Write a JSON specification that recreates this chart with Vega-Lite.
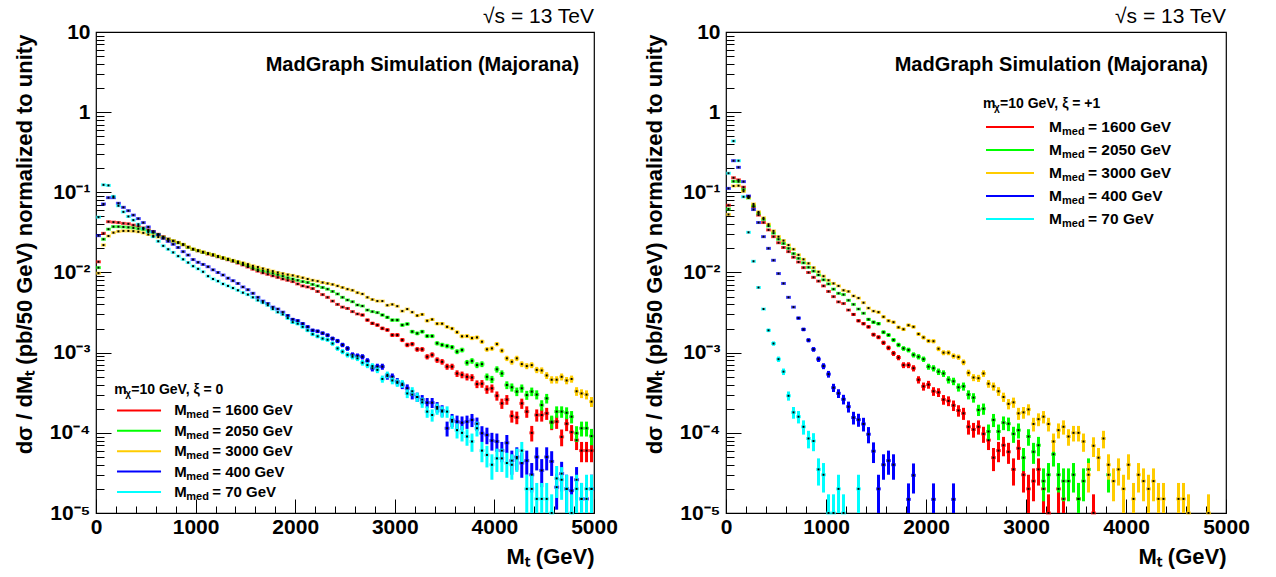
{
"$schema":"https://vega.github.io/schema/vega-lite/v6.json",
"background":"white",
"padding":{"left":12,"top":5,"right":5,"bottom":5},
"config":{"font":"Liberation Sans","view":{"stroke":"#000","strokeWidth":1.2},"text":{"color":"#000","font":"Liberation Sans"},"axis":{"labelColor":"#000","titleColor":"#000","labelFont":"Liberation Sans","titleFont":"Liberation Sans","labelOverlap":false},"title":{"font":"Liberation Sans","color":"#000"}},
"spacing":132,
"bounds":"flush",
"datasets":{
"L":[
{"s":"1600","x":25,"y":0.0136},{"s":"1600","x":75,"y":0.0308},{"s":"1600","x":125,"y":0.043},{"s":"1600","x":175,"y":0.0425},{"s":"1600","x":225,"y":0.042},{"s":"1600","x":275,"y":0.041},{"s":"1600","x":325,"y":0.0405},{"s":"1600","x":375,"y":0.039},{"s":"1600","x":425,"y":0.038},{"s":"1600","x":475,"y":0.036},{"s":"1600","x":525,"y":0.034},{"s":"1600","x":575,"y":0.0325},{"s":"1600","x":625,"y":0.03},{"s":"1600","x":675,"y":0.028},{"s":"1600","x":725,"y":0.0262},{"s":"1600","x":775,"y":0.0248},{"s":"1600","x":825,"y":0.0236},{"s":"1600","x":875,"y":0.0222},{"s":"1600","x":925,"y":0.0207},{"s":"1600","x":975,"y":0.0194},{"s":"1600","x":1025,"y":0.0186},{"s":"1600","x":1075,"y":0.0178},{"s":"1600","x":1125,"y":0.017},{"s":"1600","x":1175,"y":0.0164},{"s":"1600","x":1225,"y":0.0157},{"s":"1600","x":1275,"y":0.015},{"s":"1600","x":1325,"y":0.0144},{"s":"1600","x":1375,"y":0.0138},{"s":"1600","x":1425,"y":0.0131},{"s":"1600","x":1475,"y":0.0124},{"s":"1600","x":1525,"y":0.0117},{"s":"1600","x":1575,"y":0.011},{"s":"1600","x":1625,"y":0.0104},{"s":"1600","x":1675,"y":0.0099},{"s":"1600","x":1725,"y":0.0095},{"s":"1600","x":1775,"y":0.0091},{"s":"1600","x":1825,"y":0.0087},{"s":"1600","x":1875,"y":0.0083},{"s":"1600","x":1925,"y":0.008},{"s":"1600","x":1975,"y":0.0077},{"s":"1600","x":2025,"y":0.0072},{"s":"1600","x":2075,"y":0.0068},{"s":"1600","x":2125,"y":0.0066},{"s":"1600","x":2175,"y":0.0063},{"s":"1600","x":2225,"y":0.0058},{"s":"1600","x":2275,"y":0.0053},{"s":"1600","x":2325,"y":0.0049},{"s":"1600","x":2375,"y":0.0044},{"s":"1600","x":2425,"y":0.004},{"s":"1600","x":2475,"y":0.0037},{"s":"1600","x":2525,"y":0.00356},{"s":"1600","x":2575,"y":0.00325},{"s":"1600","x":2625,"y":0.00304},
{"s":"1600","x":2675,"y":0.00295,"e":0.000121},{"s":"1600","x":2725,"y":0.00255,"e":0.000113},{"s":"1600","x":2775,"y":0.00232,"e":0.000108},{"s":"1600","x":2825,"y":0.00221,"e":0.000105},{"s":"1600","x":2875,"y":0.00201,"e":0.0001},{"s":"1600","x":2925,"y":0.00192,"e":0.000098},{"s":"1600","x":2975,"y":0.00166,"e":0.000091},{"s":"1600","x":3025,"y":0.00166,"e":0.000091},{"s":"1600","x":3075,"y":0.00144,"e":0.000085},{"s":"1600","x":3125,"y":0.00125,"e":0.000079},{"s":"1600","x":3175,"y":0.00128,"e":0.00008},{"s":"1600","x":3225,"y":0.0011,"e":0.000074},{"s":"1600","x":3275,"y":0.0011,"e":0.000074},{"s":"1600","x":3325,"y":0.00089,"e":0.000067},{"s":"1600","x":3375,"y":0.00094,"e":0.000069},{"s":"1600","x":3425,"y":0.00081,"e":0.000064},{"s":"1600","x":3475,"y":0.00077,"e":0.000062},{"s":"1600","x":3525,"y":0.00067,"e":0.000058},{"s":"1600","x":3575,"y":0.00067,"e":0.000058},{"s":"1600","x":3625,"y":0.00055,"e":0.000052},{"s":"1600","x":3675,"y":0.00053,"e":0.000051},{"s":"1600","x":3725,"y":0.0005,"e":0.00005},{"s":"1600","x":3775,"y":0.00049,"e":0.000049},{"s":"1600","x":3825,"y":0.000406,"e":0.000045},{"s":"1600","x":3875,"y":0.00041,"e":0.000045},{"s":"1600","x":3925,"y":0.000349,"e":0.000042},{"s":"1600","x":3975,"y":0.000359,"e":0.000042},{"s":"1600","x":4025,"y":0.00029,"e":0.000038},{"s":"1600","x":4075,"y":0.000233,"e":0.000034},{"s":"1600","x":4125,"y":0.00026,"e":0.000036},{"s":"1600","x":4175,"y":0.000162,"e":0.000028},{"s":"1600","x":4225,"y":0.000156,"e":0.000028},{"s":"1600","x":4275,"y":0.000233,"e":0.000034},{"s":"1600","x":4325,"y":0.000184,"e":0.00003},{"s":"1600","x":4375,"y":0.0001,"e":0.000022},{"s":"1600","x":4425,"y":0.000167,"e":0.000029},{"s":"1600","x":4475,"y":0.000167,"e":0.000029},{"s":"1600","x":4525,"y":0.000175,"e":0.00003},{"s":"1600","x":4575,"y":0.000134,"e":0.000026},{"s":"1600","x":4625,"y":0.000138,"e":0.000026},{"s":"1600","x":4675,"y":0.000089,"e":0.000021},{"s":"1600","x":4725,"y":0.00013,"e":0.000025},{"s":"1600","x":4775,"y":0.000102,"e":0.000023},{"s":"1600","x":4825,"y":0.000081,"e":0.00002},{"s":"1600","x":4875,"y":0.00006,"e":0.000017},{"s":"1600","x":4925,"y":0.00006,"e":0.000017},{"s":"1600","x":4975,"y":0.00006,"e":0.000017},
{"s":"2050","x":25,"y":0.0115},{"s":"2050","x":75,"y":0.026},{"s":"2050","x":125,"y":0.0347},{"s":"2050","x":175,"y":0.0373},{"s":"2050","x":225,"y":0.0373},{"s":"2050","x":275,"y":0.037},{"s":"2050","x":325,"y":0.0366},{"s":"2050","x":375,"y":0.036},{"s":"2050","x":425,"y":0.0352},{"s":"2050","x":475,"y":0.0345},{"s":"2050","x":525,"y":0.033},{"s":"2050","x":575,"y":0.0314},{"s":"2050","x":625,"y":0.0296},{"s":"2050","x":675,"y":0.0275},{"s":"2050","x":725,"y":0.026},{"s":"2050","x":775,"y":0.0247},{"s":"2050","x":825,"y":0.0235},{"s":"2050","x":875,"y":0.0223},{"s":"2050","x":925,"y":0.0206},{"s":"2050","x":975,"y":0.0195},{"s":"2050","x":1025,"y":0.0187},{"s":"2050","x":1075,"y":0.0179},{"s":"2050","x":1125,"y":0.0172},{"s":"2050","x":1175,"y":0.0166},{"s":"2050","x":1225,"y":0.0158},{"s":"2050","x":1275,"y":0.0152},{"s":"2050","x":1325,"y":0.0146},{"s":"2050","x":1375,"y":0.014},{"s":"2050","x":1425,"y":0.0134},{"s":"2050","x":1475,"y":0.0128},{"s":"2050","x":1525,"y":0.0122},{"s":"2050","x":1575,"y":0.0115},{"s":"2050","x":1625,"y":0.0109},{"s":"2050","x":1675,"y":0.0105},{"s":"2050","x":1725,"y":0.0102},{"s":"2050","x":1775,"y":0.0098},{"s":"2050","x":1825,"y":0.0094},{"s":"2050","x":1875,"y":0.009},{"s":"2050","x":1925,"y":0.0086},{"s":"2050","x":1975,"y":0.0083},{"s":"2050","x":2025,"y":0.008},{"s":"2050","x":2075,"y":0.0077},{"s":"2050","x":2125,"y":0.0075},{"s":"2050","x":2175,"y":0.0071},{"s":"2050","x":2225,"y":0.0068},{"s":"2050","x":2275,"y":0.0065},{"s":"2050","x":2325,"y":0.0062},{"s":"2050","x":2375,"y":0.0058},{"s":"2050","x":2425,"y":0.0054},{"s":"2050","x":2475,"y":0.0049},{"s":"2050","x":2525,"y":0.00454},{"s":"2050","x":2575,"y":0.00432},{"s":"2050","x":2625,"y":0.00393},{"s":"2050","x":2675,"y":0.00382},{"s":"2050","x":2725,"y":0.0034},{"s":"2050","x":2775,"y":0.00325},{"s":"2050","x":2825,"y":0.00316},
{"s":"2050","x":2875,"y":0.00295,"e":0.000121},{"s":"2050","x":2925,"y":0.00276,"e":0.000117},{"s":"2050","x":2975,"y":0.00255,"e":0.000113},{"s":"2050","x":3025,"y":0.00255,"e":0.000113},{"s":"2050","x":3075,"y":0.00221,"e":0.000105},{"s":"2050","x":3125,"y":0.00228,"e":0.000107},{"s":"2050","x":3175,"y":0.00183,"e":0.000096},{"s":"2050","x":3225,"y":0.00174,"e":0.000093},{"s":"2050","x":3275,"y":0.00183,"e":0.000096},{"s":"2050","x":3325,"y":0.00161,"e":0.00009},{"s":"2050","x":3375,"y":0.00161,"e":0.00009},{"s":"2050","x":3425,"y":0.00131,"e":0.000081},{"s":"2050","x":3475,"y":0.00125,"e":0.000079},{"s":"2050","x":3525,"y":0.00121,"e":0.000078},{"s":"2050","x":3575,"y":0.00117,"e":0.000076},{"s":"2050","x":3625,"y":0.00103,"e":0.000072},{"s":"2050","x":3675,"y":0.00108,"e":0.000073},{"s":"2050","x":3725,"y":0.00075,"e":0.000061},{"s":"2050","x":3775,"y":0.00079,"e":0.000063},{"s":"2050","x":3825,"y":0.0007,"e":0.000059},{"s":"2050","x":3875,"y":0.00072,"e":0.00006},{"s":"2050","x":3925,"y":0.0005,"e":0.00005},{"s":"2050","x":3975,"y":0.000465,"e":0.000048},{"s":"2050","x":4025,"y":0.00062,"e":0.000056},{"s":"2050","x":4075,"y":0.00055,"e":0.000052},{"s":"2050","x":4125,"y":0.000395,"e":0.000044},{"s":"2050","x":4175,"y":0.00037,"e":0.000043},{"s":"2050","x":4225,"y":0.000327,"e":0.00004},{"s":"2050","x":4275,"y":0.000359,"e":0.000042},{"s":"2050","x":4325,"y":0.000296,"e":0.000038},{"s":"2050","x":4375,"y":0.000327,"e":0.00004},{"s":"2050","x":4425,"y":0.0003,"e":0.000039},{"s":"2050","x":4475,"y":0.000222,"e":0.000033},{"s":"2050","x":4525,"y":0.000269,"e":0.000037},{"s":"2050","x":4575,"y":0.000138,"e":0.000026},{"s":"2050","x":4625,"y":0.000184,"e":0.00003},{"s":"2050","x":4675,"y":0.000184,"e":0.00003},{"s":"2050","x":4725,"y":0.000178,"e":0.00003},{"s":"2050","x":4775,"y":0.000159,"e":0.000028},{"s":"2050","x":4825,"y":0.000099,"e":0.000022},{"s":"2050","x":4875,"y":0.000114,"e":0.000024},{"s":"2050","x":4925,"y":0.000114,"e":0.000024},{"s":"2050","x":4975,"y":0.000091,"e":0.000021},
{"s":"3000","x":25,"y":0.0098},{"s":"3000","x":75,"y":0.022},{"s":"3000","x":125,"y":0.0285},{"s":"3000","x":175,"y":0.0314},{"s":"3000","x":225,"y":0.0326},{"s":"3000","x":275,"y":0.033},{"s":"3000","x":325,"y":0.033},{"s":"3000","x":375,"y":0.0328},{"s":"3000","x":425,"y":0.0322},{"s":"3000","x":475,"y":0.0312},{"s":"3000","x":525,"y":0.0298},{"s":"3000","x":575,"y":0.0288},{"s":"3000","x":625,"y":0.0277},{"s":"3000","x":675,"y":0.0268},{"s":"3000","x":725,"y":0.0258},{"s":"3000","x":775,"y":0.0248},{"s":"3000","x":825,"y":0.0238},{"s":"3000","x":875,"y":0.0225},{"s":"3000","x":925,"y":0.0208},{"s":"3000","x":975,"y":0.0197},{"s":"3000","x":1025,"y":0.0189},{"s":"3000","x":1075,"y":0.0181},{"s":"3000","x":1125,"y":0.0174},{"s":"3000","x":1175,"y":0.0168},{"s":"3000","x":1225,"y":0.016},{"s":"3000","x":1275,"y":0.0154},{"s":"3000","x":1325,"y":0.0148},{"s":"3000","x":1375,"y":0.0142},{"s":"3000","x":1425,"y":0.0137},{"s":"3000","x":1475,"y":0.0132},{"s":"3000","x":1525,"y":0.0127},{"s":"3000","x":1575,"y":0.0121},{"s":"3000","x":1625,"y":0.0117},{"s":"3000","x":1675,"y":0.0112},{"s":"3000","x":1725,"y":0.0108},{"s":"3000","x":1775,"y":0.0104},{"s":"3000","x":1825,"y":0.01},{"s":"3000","x":1875,"y":0.0097},{"s":"3000","x":1925,"y":0.0094},{"s":"3000","x":1975,"y":0.0092},{"s":"3000","x":2025,"y":0.0089},{"s":"3000","x":2075,"y":0.0086},{"s":"3000","x":2125,"y":0.0083},{"s":"3000","x":2175,"y":0.008},{"s":"3000","x":2225,"y":0.0078},{"s":"3000","x":2275,"y":0.0075},{"s":"3000","x":2325,"y":0.0073},{"s":"3000","x":2375,"y":0.0071},{"s":"3000","x":2425,"y":0.0068},{"s":"3000","x":2475,"y":0.0065},{"s":"3000","x":2525,"y":0.0062},{"s":"3000","x":2575,"y":0.006},{"s":"3000","x":2625,"y":0.0056},{"s":"3000","x":2675,"y":0.0054},{"s":"3000","x":2725,"y":0.0049},{"s":"3000","x":2775,"y":0.0046},{"s":"3000","x":2825,"y":0.0044},{"s":"3000","x":2875,"y":0.0044},{"s":"3000","x":2925,"y":0.0039},{"s":"3000","x":2975,"y":0.004},{"s":"3000","x":3025,"y":0.0038},{"s":"3000","x":3075,"y":0.0033},{"s":"3000","x":3125,"y":0.0035},{"s":"3000","x":3175,"y":0.0032},
{"s":"3000","x":3225,"y":0.0029,"e":0.00012},{"s":"3000","x":3275,"y":0.003,"e":0.000122},{"s":"3000","x":3325,"y":0.0025,"e":0.000112},{"s":"3000","x":3375,"y":0.0026,"e":0.000114},{"s":"3000","x":3425,"y":0.0023,"e":0.000107},{"s":"3000","x":3475,"y":0.0023,"e":0.000107},{"s":"3000","x":3525,"y":0.0021,"e":0.000102},{"s":"3000","x":3575,"y":0.002,"e":0.0001},{"s":"3000","x":3625,"y":0.0018,"e":0.000095},{"s":"3000","x":3675,"y":0.0016,"e":0.000089},{"s":"3000","x":3725,"y":0.00161,"e":0.00009},{"s":"3000","x":3775,"y":0.00152,"e":0.000087},{"s":"3000","x":3825,"y":0.00155,"e":0.000088},{"s":"3000","x":3875,"y":0.00137,"e":0.000083},{"s":"3000","x":3925,"y":0.0011,"e":0.000074},{"s":"3000","x":3975,"y":0.00113,"e":0.000075},{"s":"3000","x":4025,"y":0.00128,"e":0.00008},{"s":"3000","x":4075,"y":0.00106,"e":0.000073},{"s":"3000","x":4125,"y":0.00085,"e":0.000065},{"s":"3000","x":4175,"y":0.00077,"e":0.000062},{"s":"3000","x":4225,"y":0.00085,"e":0.000065},{"s":"3000","x":4275,"y":0.00072,"e":0.00006},{"s":"3000","x":4325,"y":0.00068,"e":0.000058},{"s":"3000","x":4375,"y":0.0007,"e":0.000059},{"s":"3000","x":4425,"y":0.00061,"e":0.000055},{"s":"3000","x":4475,"y":0.0006,"e":0.000055},{"s":"3000","x":4525,"y":0.00052,"e":0.000051},{"s":"3000","x":4575,"y":0.00046,"e":0.000048},{"s":"3000","x":4625,"y":0.00046,"e":0.000048},{"s":"3000","x":4675,"y":0.0005,"e":0.00005},{"s":"3000","x":4725,"y":0.00045,"e":0.000047},{"s":"3000","x":4775,"y":0.00047,"e":0.000048},{"s":"3000","x":4825,"y":0.00033,"e":0.000041},{"s":"3000","x":4875,"y":0.00031,"e":0.000039},{"s":"3000","x":4925,"y":0.0003,"e":0.000039},{"s":"3000","x":4975,"y":0.000245,"e":0.000035},
{"s":"400","x":25,"y":0.0288},{"s":"400","x":75,"y":0.0715},{"s":"400","x":125,"y":0.0858},{"s":"400","x":175,"y":0.0858},{"s":"400","x":225,"y":0.073},{"s":"400","x":275,"y":0.065},{"s":"400","x":325,"y":0.059},{"s":"400","x":375,"y":0.052},{"s":"400","x":425,"y":0.047},{"s":"400","x":475,"y":0.0419},{"s":"400","x":525,"y":0.037},{"s":"400","x":575,"y":0.0324},{"s":"400","x":625,"y":0.0295},{"s":"400","x":675,"y":0.0267},{"s":"400","x":725,"y":0.0245},{"s":"400","x":775,"y":0.0225},{"s":"400","x":825,"y":0.0205},{"s":"400","x":875,"y":0.0182},{"s":"400","x":925,"y":0.0165},{"s":"400","x":975,"y":0.0145},{"s":"400","x":1025,"y":0.0134},{"s":"400","x":1075,"y":0.0126},{"s":"400","x":1125,"y":0.0118},{"s":"400","x":1175,"y":0.0108},{"s":"400","x":1225,"y":0.01},{"s":"400","x":1275,"y":0.0093},{"s":"400","x":1325,"y":0.0085},{"s":"400","x":1375,"y":0.0079},{"s":"400","x":1425,"y":0.0073},{"s":"400","x":1475,"y":0.0066},{"s":"400","x":1525,"y":0.0061},{"s":"400","x":1575,"y":0.0055},{"s":"400","x":1625,"y":0.0049},{"s":"400","x":1675,"y":0.0044},{"s":"400","x":1725,"y":0.0041},{"s":"400","x":1775,"y":0.0037},{"s":"400","x":1825,"y":0.0035},{"s":"400","x":1875,"y":0.0032},
{"s":"400","x":1925,"y":0.0029,"e":0.00012},{"s":"400","x":1975,"y":0.0026,"e":0.000114},{"s":"400","x":2025,"y":0.0025,"e":0.000112},{"s":"400","x":2075,"y":0.0023,"e":0.000107},{"s":"400","x":2125,"y":0.0021,"e":0.000102},{"s":"400","x":2175,"y":0.0019,"e":0.000097},{"s":"400","x":2225,"y":0.00185,"e":0.000096},{"s":"400","x":2275,"y":0.00175,"e":0.000094},{"s":"400","x":2325,"y":0.00165,"e":0.000091},{"s":"400","x":2375,"y":0.0015,"e":0.000087},{"s":"400","x":2425,"y":0.0014,"e":0.000084},{"s":"400","x":2475,"y":0.00125,"e":0.000079},{"s":"400","x":2525,"y":0.00113,"e":0.000075},{"s":"400","x":2575,"y":0.00094,"e":0.000069},{"s":"400","x":2625,"y":0.00091,"e":0.000067},{"s":"400","x":2675,"y":0.00089,"e":0.000067},{"s":"400","x":2725,"y":0.00079,"e":0.000063},{"s":"400","x":2775,"y":0.00064,"e":0.000057},{"s":"400","x":2825,"y":0.00067,"e":0.000058},{"s":"400","x":2875,"y":0.00067,"e":0.000058},{"s":"400","x":2925,"y":0.00051,"e":0.00005},{"s":"400","x":2975,"y":0.0005,"e":0.00005},{"s":"400","x":3025,"y":0.000435,"e":0.000047},{"s":"400","x":3075,"y":0.000395,"e":0.000044},{"s":"400","x":3125,"y":0.00036,"e":0.000042},{"s":"400","x":3175,"y":0.0003,"e":0.000039},{"s":"400","x":3225,"y":0.00028,"e":0.000037},{"s":"400","x":3275,"y":0.00026,"e":0.000036},{"s":"400","x":3325,"y":0.000238,"e":0.000034},{"s":"400","x":3375,"y":0.000238,"e":0.000034},{"s":"400","x":3425,"y":0.00021,"e":0.000032},{"s":"400","x":3475,"y":0.00019,"e":0.000031},{"s":"400","x":3525,"y":0.000114,"e":0.000024},{"s":"400","x":3575,"y":0.000145,"e":0.000027},{"s":"400","x":3625,"y":0.000138,"e":0.000026},{"s":"400","x":3675,"y":0.000134,"e":0.000026},{"s":"400","x":3725,"y":0.000138,"e":0.000026},{"s":"400","x":3775,"y":0.000145,"e":0.000027},{"s":"400","x":3825,"y":0.00013,"e":0.000025},{"s":"400","x":3875,"y":0.000099,"e":0.000022},{"s":"400","x":3925,"y":0.000094,"e":0.000022},{"s":"400","x":3975,"y":0.00008,"e":0.00002},{"s":"400","x":4025,"y":0.000078,"e":0.00002},{"s":"400","x":4075,"y":0.00006,"e":0.000017},{"s":"400","x":4125,"y":0.000075,"e":0.000019},{"s":"400","x":4175,"y":0.000045,"e":0.000015},{"s":"400","x":4225,"y":0.00005,"e":0.000016},{"s":"400","x":4275,"y":0.000042,"e":0.0000145},{"s":"400","x":4325,"y":0.000045,"e":0.000015},{"s":"400","x":4375,"y":0.00003,"e":0.000012},{"s":"400","x":4425,"y":0.00005,"e":0.000016},{"s":"400","x":4475,"y":0.000034,"e":0.000013},{"s":"400","x":4525,"y":0.00005,"e":0.000016},{"s":"400","x":4575,"y":0.000044,"e":0.000015},{"s":"400","x":4625,"y":0.000021,"e":0.00001},{"s":"400","x":4675,"y":0.000031,"e":0.0000125},{"s":"400","x":4725,"y":0.00002,"e":0.00001},{"s":"400","x":4775,"y":0.000019,"e":0.0000097},{"s":"400","x":4825,"y":0.000026,"e":0.0000114},{"s":"400","x":4875,"y":0.000015,"e":0.0000087},{"s":"400","x":4925,"y":0.000015,"e":0.0000087},{"s":"400","x":4975,"y":0.00002,"e":0.00001},
{"s":"70","x":25,"y":0.049},{"s":"70","x":75,"y":0.124},{"s":"70","x":125,"y":0.122},{"s":"70","x":175,"y":0.089},{"s":"70","x":225,"y":0.068},{"s":"70","x":275,"y":0.057},{"s":"70","x":325,"y":0.05},{"s":"70","x":375,"y":0.045},{"s":"70","x":425,"y":0.04},{"s":"70","x":475,"y":0.0356},{"s":"70","x":525,"y":0.032},{"s":"70","x":575,"y":0.028},{"s":"70","x":625,"y":0.0245},{"s":"70","x":675,"y":0.0215},{"s":"70","x":725,"y":0.0195},{"s":"70","x":775,"y":0.0178},{"s":"70","x":825,"y":0.016},{"s":"70","x":875,"y":0.0146},{"s":"70","x":925,"y":0.0133},{"s":"70","x":975,"y":0.012},{"s":"70","x":1025,"y":0.0111},{"s":"70","x":1075,"y":0.0102},{"s":"70","x":1125,"y":0.009},{"s":"70","x":1175,"y":0.0083},{"s":"70","x":1225,"y":0.0078},{"s":"70","x":1275,"y":0.0072},{"s":"70","x":1325,"y":0.0068},{"s":"70","x":1375,"y":0.0064},{"s":"70","x":1425,"y":0.006},{"s":"70","x":1475,"y":0.0056},{"s":"70","x":1525,"y":0.0053},{"s":"70","x":1575,"y":0.0049},{"s":"70","x":1625,"y":0.0045},{"s":"70","x":1675,"y":0.0042},{"s":"70","x":1725,"y":0.0039},{"s":"70","x":1775,"y":0.0035},{"s":"70","x":1825,"y":0.0032},{"s":"70","x":1875,"y":0.003},
{"s":"70","x":1925,"y":0.0027,"e":0.000116},{"s":"70","x":1975,"y":0.0024,"e":0.00011},{"s":"70","x":2025,"y":0.0023,"e":0.000107},{"s":"70","x":2075,"y":0.0021,"e":0.000102},{"s":"70","x":2125,"y":0.0019,"e":0.000097},{"s":"70","x":2175,"y":0.0017,"e":0.000092},{"s":"70","x":2225,"y":0.0016,"e":0.000089},{"s":"70","x":2275,"y":0.0015,"e":0.000087},{"s":"70","x":2325,"y":0.00145,"e":0.000085},{"s":"70","x":2375,"y":0.0013,"e":0.000081},{"s":"70","x":2425,"y":0.00113,"e":0.000075},{"s":"70","x":2475,"y":0.00103,"e":0.000072},{"s":"70","x":2525,"y":0.00094,"e":0.000069},{"s":"70","x":2575,"y":0.00089,"e":0.000067},{"s":"70","x":2625,"y":0.00085,"e":0.000065},{"s":"70","x":2675,"y":0.00075,"e":0.000061},{"s":"70","x":2725,"y":0.0007,"e":0.000059},{"s":"70","x":2775,"y":0.00068,"e":0.000058},{"s":"70","x":2825,"y":0.00061,"e":0.000055},{"s":"70","x":2875,"y":0.00047,"e":0.000048},{"s":"70","x":2925,"y":0.00053,"e":0.000051},{"s":"70","x":2975,"y":0.00045,"e":0.000047},{"s":"70","x":3025,"y":0.00042,"e":0.000046},{"s":"70","x":3075,"y":0.00041,"e":0.000045},{"s":"70","x":3125,"y":0.00031,"e":0.000039},{"s":"70","x":3175,"y":0.00033,"e":0.000041},{"s":"70","x":3225,"y":0.00028,"e":0.000037},{"s":"70","x":3275,"y":0.00024,"e":0.000035},{"s":"70","x":3325,"y":0.000184,"e":0.00003},{"s":"70","x":3375,"y":0.000167,"e":0.000029},{"s":"70","x":3425,"y":0.0002,"e":0.000032},{"s":"70","x":3475,"y":0.000184,"e":0.00003},{"s":"70","x":3525,"y":0.000184,"e":0.00003},{"s":"70","x":3575,"y":0.000138,"e":0.000026},{"s":"70","x":3625,"y":0.000108,"e":0.000023},{"s":"70","x":3675,"y":0.0001,"e":0.000022},{"s":"70","x":3725,"y":0.00009,"e":0.000021},{"s":"70","x":3775,"y":0.000078,"e":0.00002},{"s":"70","x":3825,"y":0.000114,"e":0.000024},{"s":"70","x":3875,"y":0.00006,"e":0.000017},{"s":"70","x":3925,"y":0.000053,"e":0.000016},{"s":"70","x":3975,"y":0.00004,"e":0.000014},{"s":"70","x":4025,"y":0.000048,"e":0.0000155},{"s":"70","x":4075,"y":0.000048,"e":0.0000155},{"s":"70","x":4125,"y":0.000042,"e":0.0000145},{"s":"70","x":4175,"y":0.00004,"e":0.000014},{"s":"70","x":4225,"y":0.000048,"e":0.0000155},{"s":"70","x":4275,"y":0.00006,"e":0.000017},{"s":"70","x":4325,"y":0.00002,"e":0.00001},{"s":"70","x":4375,"y":0.00002,"e":0.00001},{"s":"70","x":4425,"y":0.000015,"e":0.0000087},{"s":"70","x":4475,"y":0.000015,"e":0.0000087},{"s":"70","x":4525,"y":0.000015,"e":0.0000087},{"s":"70","x":4575,"y":0.00001,"e":0.0000071},{"s":"70","x":4625,"y":0.000027,"e":0.0000116},{"s":"70","x":4675,"y":0.000026,"e":0.0000114},{"s":"70","x":4725,"y":0.00002,"e":0.00001},{"s":"70","x":4775,"y":0.00001,"e":0.0000071},{"s":"70","x":4825,"y":0.00002,"e":0.00001},{"s":"70","x":4875,"y":0.000015,"e":0.0000087},{"s":"70","x":4925,"y":0.00002,"e":0.00001},{"s":"70","x":4975,"y":0.00002,"e":0.00001}
],
"R":[
{"s":"1600","x":25,"y":0.069},{"s":"1600","x":75,"y":0.152},{"s":"1600","x":125,"y":0.143},{"s":"1600","x":175,"y":0.116},{"s":"1600","x":225,"y":0.088},{"s":"1600","x":275,"y":0.066},{"s":"1600","x":325,"y":0.052},{"s":"1600","x":375,"y":0.042},{"s":"1600","x":425,"y":0.034},{"s":"1600","x":475,"y":0.028},{"s":"1600","x":525,"y":0.0235},{"s":"1600","x":575,"y":0.0205},{"s":"1600","x":625,"y":0.0182},{"s":"1600","x":675,"y":0.0155},{"s":"1600","x":725,"y":0.0135},{"s":"1600","x":775,"y":0.0115},{"s":"1600","x":825,"y":0.01},{"s":"1600","x":875,"y":0.0087},{"s":"1600","x":925,"y":0.0078},{"s":"1600","x":975,"y":0.0068},{"s":"1600","x":1025,"y":0.0058},{"s":"1600","x":1075,"y":0.005},{"s":"1600","x":1125,"y":0.0043},{"s":"1600","x":1175,"y":0.0041},{"s":"1600","x":1225,"y":0.0034},
{"s":"1600","x":1275,"y":0.003,"e":0.000122},{"s":"1600","x":1325,"y":0.0025,"e":0.000112},{"s":"1600","x":1375,"y":0.0023,"e":0.000107},{"s":"1600","x":1425,"y":0.0021,"e":0.000102},{"s":"1600","x":1475,"y":0.00168,"e":0.000092},{"s":"1600","x":1525,"y":0.00156,"e":0.000088},{"s":"1600","x":1575,"y":0.00133,"e":0.000082},{"s":"1600","x":1625,"y":0.00115,"e":0.000076},{"s":"1600","x":1675,"y":0.00098,"e":0.00007},{"s":"1600","x":1725,"y":0.00087,"e":0.000066},{"s":"1600","x":1775,"y":0.0007,"e":0.000059},{"s":"1600","x":1825,"y":0.0007,"e":0.000059},{"s":"1600","x":1875,"y":0.00064,"e":0.000057},{"s":"1600","x":1925,"y":0.00046,"e":0.000048},{"s":"1600","x":1975,"y":0.00038,"e":0.000044},{"s":"1600","x":2025,"y":0.0004,"e":0.000045},{"s":"1600","x":2075,"y":0.00033,"e":0.000041},{"s":"1600","x":2125,"y":0.00032,"e":0.00004},{"s":"1600","x":2175,"y":0.00026,"e":0.000036},{"s":"1600","x":2225,"y":0.00025,"e":0.000035},{"s":"1600","x":2275,"y":0.00022,"e":0.000033},{"s":"1600","x":2325,"y":0.00019,"e":0.000031},{"s":"1600","x":2375,"y":0.000175,"e":0.00003},{"s":"1600","x":2425,"y":0.000119,"e":0.000024},{"s":"1600","x":2475,"y":0.00011,"e":0.000023},{"s":"1600","x":2525,"y":0.000119,"e":0.000024},{"s":"1600","x":2575,"y":0.000097,"e":0.000022},{"s":"1600","x":2625,"y":0.000081,"e":0.00002},{"s":"1600","x":2675,"y":0.000049,"e":0.0000157},{"s":"1600","x":2725,"y":0.00006,"e":0.000017},{"s":"1600","x":2775,"y":0.00007,"e":0.000019},{"s":"1600","x":2825,"y":0.000058,"e":0.000017},{"s":"1600","x":2875,"y":0.000035,"e":0.000013},{"s":"1600","x":2925,"y":0.000064,"e":0.000018},{"s":"1600","x":2975,"y":0.00003,"e":0.000012},{"s":"1600","x":3025,"y":0.00002,"e":0.00001},{"s":"1600","x":3075,"y":0.000025,"e":0.000011},{"s":"1600","x":3125,"y":0.000035,"e":0.000013},{"s":"1600","x":3175,"y":0.00002,"e":0.00001},{"s":"1600","x":3225,"y":0.00001,"e":0.0000071},{"s":"1600","x":3325,"y":0.00002,"e":0.00001},{"s":"1600","x":3375,"y":0.000015,"e":0.0000087},{"s":"1600","x":3525,"y":0.000015,"e":0.0000087},{"s":"1600","x":3675,"y":0.00001,"e":0.0000071},
{"s":"2050","x":25,"y":0.062},{"s":"2050","x":75,"y":0.137},{"s":"2050","x":125,"y":0.136},{"s":"2050","x":175,"y":0.108},{"s":"2050","x":225,"y":0.085},{"s":"2050","x":275,"y":0.068},{"s":"2050","x":325,"y":0.055},{"s":"2050","x":375,"y":0.046},{"s":"2050","x":425,"y":0.038},{"s":"2050","x":475,"y":0.031},{"s":"2050","x":525,"y":0.026},{"s":"2050","x":575,"y":0.023},{"s":"2050","x":625,"y":0.02},{"s":"2050","x":675,"y":0.0172},{"s":"2050","x":725,"y":0.015},{"s":"2050","x":775,"y":0.0132},{"s":"2050","x":825,"y":0.0116},{"s":"2050","x":875,"y":0.0104},{"s":"2050","x":925,"y":0.0093},{"s":"2050","x":975,"y":0.0081},{"s":"2050","x":1025,"y":0.0072},{"s":"2050","x":1075,"y":0.0062},{"s":"2050","x":1125,"y":0.0055},{"s":"2050","x":1175,"y":0.0053},{"s":"2050","x":1225,"y":0.0045},{"s":"2050","x":1275,"y":0.004},{"s":"2050","x":1325,"y":0.0035},{"s":"2050","x":1375,"y":0.0031},
{"s":"2050","x":1425,"y":0.0026,"e":0.000114},{"s":"2050","x":1475,"y":0.0024,"e":0.00011},{"s":"2050","x":1525,"y":0.0023,"e":0.000107},{"s":"2050","x":1575,"y":0.0018,"e":0.000095},{"s":"2050","x":1625,"y":0.00166,"e":0.000091},{"s":"2050","x":1675,"y":0.00144,"e":0.000085},{"s":"2050","x":1725,"y":0.00125,"e":0.000079},{"s":"2050","x":1775,"y":0.00113,"e":0.000075},{"s":"2050","x":1825,"y":0.00108,"e":0.000073},{"s":"2050","x":1875,"y":0.00094,"e":0.000069},{"s":"2050","x":1925,"y":0.00089,"e":0.000067},{"s":"2050","x":1975,"y":0.00083,"e":0.000064},{"s":"2050","x":2025,"y":0.00067,"e":0.000058},{"s":"2050","x":2075,"y":0.00064,"e":0.000057},{"s":"2050","x":2125,"y":0.00058,"e":0.000054},{"s":"2050","x":2175,"y":0.00055,"e":0.000052},{"s":"2050","x":2225,"y":0.00046,"e":0.000048},{"s":"2050","x":2275,"y":0.00044,"e":0.000047},{"s":"2050","x":2325,"y":0.00037,"e":0.000043},{"s":"2050","x":2375,"y":0.00038,"e":0.000044},{"s":"2050","x":2425,"y":0.0003,"e":0.000039},{"s":"2050","x":2475,"y":0.000275,"e":0.000037},{"s":"2050","x":2525,"y":0.000193,"e":0.000031},{"s":"2050","x":2575,"y":0.0002,"e":0.000032},{"s":"2050","x":2625,"y":0.000104,"e":0.000023},{"s":"2050","x":2675,"y":0.000145,"e":0.000027},{"s":"2050","x":2725,"y":0.000104,"e":0.000023},{"s":"2050","x":2775,"y":0.000134,"e":0.000026},{"s":"2050","x":2825,"y":0.00013,"e":0.000025},{"s":"2050","x":2875,"y":0.000097,"e":0.000022},{"s":"2050","x":2925,"y":0.000108,"e":0.000023},{"s":"2050","x":2975,"y":0.000049,"e":0.0000157},{"s":"2050","x":3025,"y":0.00009,"e":0.000021},{"s":"2050","x":3075,"y":0.000058,"e":0.000017},{"s":"2050","x":3125,"y":0.00007,"e":0.000019},{"s":"2050","x":3175,"y":0.000025,"e":0.000011},{"s":"2050","x":3225,"y":0.00003,"e":0.000012},{"s":"2050","x":3275,"y":0.000054,"e":0.000016},{"s":"2050","x":3325,"y":0.00003,"e":0.000012},{"s":"2050","x":3375,"y":0.000025,"e":0.000011},{"s":"2050","x":3425,"y":0.000025,"e":0.000011},{"s":"2050","x":3475,"y":0.00003,"e":0.000012},{"s":"2050","x":3525,"y":0.000015,"e":0.0000087},{"s":"2050","x":3575,"y":0.000025,"e":0.000011},{"s":"2050","x":3625,"y":0.000035,"e":0.000013},{"s":"2050","x":3825,"y":0.00003,"e":0.000012},
{"s":"3000","x":25,"y":0.053},{"s":"3000","x":75,"y":0.12},{"s":"3000","x":125,"y":0.121},{"s":"3000","x":175,"y":0.103},{"s":"3000","x":225,"y":0.086},{"s":"3000","x":275,"y":0.0716},{"s":"3000","x":325,"y":0.057},{"s":"3000","x":375,"y":0.048},{"s":"3000","x":425,"y":0.04},{"s":"3000","x":475,"y":0.033},{"s":"3000","x":525,"y":0.028},{"s":"3000","x":575,"y":0.025},{"s":"3000","x":625,"y":0.022},{"s":"3000","x":675,"y":0.0195},{"s":"3000","x":725,"y":0.0166},{"s":"3000","x":775,"y":0.0146},{"s":"3000","x":825,"y":0.013},{"s":"3000","x":875,"y":0.0115},{"s":"3000","x":925,"y":0.0102},{"s":"3000","x":975,"y":0.009},{"s":"3000","x":1025,"y":0.008},{"s":"3000","x":1075,"y":0.0073},{"s":"3000","x":1125,"y":0.0068},{"s":"3000","x":1175,"y":0.006},{"s":"3000","x":1225,"y":0.0058},{"s":"3000","x":1275,"y":0.0051},{"s":"3000","x":1325,"y":0.0048},{"s":"3000","x":1375,"y":0.0042},{"s":"3000","x":1425,"y":0.0036},{"s":"3000","x":1475,"y":0.0033},
{"s":"3000","x":1525,"y":0.0032,"e":0.000126},{"s":"3000","x":1575,"y":0.0028,"e":0.000118},{"s":"3000","x":1625,"y":0.0025,"e":0.000112},{"s":"3000","x":1675,"y":0.0024,"e":0.00011},{"s":"3000","x":1725,"y":0.00207,"e":0.000102},{"s":"3000","x":1775,"y":0.00196,"e":0.000099},{"s":"3000","x":1825,"y":0.0022,"e":0.000105},{"s":"3000","x":1875,"y":0.0021,"e":0.000102},{"s":"3000","x":1925,"y":0.00171,"e":0.000092},{"s":"3000","x":1975,"y":0.00155,"e":0.000088},{"s":"3000","x":2025,"y":0.0014,"e":0.000084},{"s":"3000","x":2075,"y":0.00139,"e":0.000083},{"s":"3000","x":2125,"y":0.00112,"e":0.000075},{"s":"3000","x":2175,"y":0.001,"e":0.000071},{"s":"3000","x":2225,"y":0.001,"e":0.000071},{"s":"3000","x":2275,"y":0.00091,"e":0.000067},{"s":"3000","x":2325,"y":0.00088,"e":0.000066},{"s":"3000","x":2375,"y":0.00076,"e":0.000062},{"s":"3000","x":2425,"y":0.00056,"e":0.000053},{"s":"3000","x":2475,"y":0.00049,"e":0.000049},{"s":"3000","x":2525,"y":0.00048,"e":0.000049},{"s":"3000","x":2575,"y":0.00055,"e":0.000052},{"s":"3000","x":2625,"y":0.00041,"e":0.000045},{"s":"3000","x":2675,"y":0.00038,"e":0.000044},{"s":"3000","x":2725,"y":0.00033,"e":0.000041},{"s":"3000","x":2775,"y":0.00028,"e":0.000037},{"s":"3000","x":2825,"y":0.00023,"e":0.000034},{"s":"3000","x":2875,"y":0.00024,"e":0.000035},{"s":"3000","x":2925,"y":0.000175,"e":0.00003},{"s":"3000","x":2975,"y":0.00018,"e":0.00003},{"s":"3000","x":3025,"y":0.000196,"e":0.000031},{"s":"3000","x":3075,"y":0.000129,"e":0.000025},{"s":"3000","x":3125,"y":0.000148,"e":0.000027},{"s":"3000","x":3175,"y":0.000159,"e":0.000028},{"s":"3000","x":3225,"y":0.000129,"e":0.000025},{"s":"3000","x":3275,"y":0.000078,"e":0.00002},{"s":"3000","x":3325,"y":0.000108,"e":0.000023},{"s":"3000","x":3375,"y":0.000119,"e":0.000024},{"s":"3000","x":3425,"y":0.00009,"e":0.000021},{"s":"3000","x":3475,"y":0.0001,"e":0.000022},{"s":"3000","x":3525,"y":0.0001,"e":0.000022},{"s":"3000","x":3575,"y":0.000078,"e":0.00002},{"s":"3000","x":3625,"y":0.00003,"e":0.000012},{"s":"3000","x":3675,"y":0.000069,"e":0.000019},{"s":"3000","x":3725,"y":0.000049,"e":0.0000157},{"s":"3000","x":3775,"y":0.000085,"e":0.000021},{"s":"3000","x":3825,"y":0.00004,"e":0.000014},{"s":"3000","x":3875,"y":0.000025,"e":0.000011},{"s":"3000","x":3925,"y":0.000035,"e":0.000013},{"s":"3000","x":3975,"y":0.00002,"e":0.00001},{"s":"3000","x":4025,"y":0.00004,"e":0.000014},{"s":"3000","x":4075,"y":0.000015,"e":0.0000087},{"s":"3000","x":4125,"y":0.00003,"e":0.000012},{"s":"3000","x":4175,"y":0.000025,"e":0.000011},{"s":"3000","x":4225,"y":0.00002,"e":0.00001},{"s":"3000","x":4275,"y":0.000025,"e":0.000011},{"s":"3000","x":4325,"y":0.000015,"e":0.0000087},{"s":"3000","x":4375,"y":0.000015,"e":0.0000087},{"s":"3000","x":4525,"y":0.000015,"e":0.0000087},{"s":"3000","x":4575,"y":0.000015,"e":0.0000087},{"s":"3000","x":4625,"y":0.00001,"e":0.0000071},{"s":"3000","x":4825,"y":0.00001,"e":0.0000071},
{"s":"400","x":25,"y":0.112},{"s":"400","x":75,"y":0.248},{"s":"400","x":125,"y":0.205},{"s":"400","x":175,"y":0.136},{"s":"400","x":225,"y":0.09},{"s":"400","x":275,"y":0.061},{"s":"400","x":325,"y":0.042},{"s":"400","x":375,"y":0.028},{"s":"400","x":425,"y":0.02},{"s":"400","x":475,"y":0.0142},{"s":"400","x":525,"y":0.0097},{"s":"400","x":575,"y":0.0073},{"s":"400","x":625,"y":0.0049},{"s":"400","x":675,"y":0.0037},
{"s":"400","x":725,"y":0.0027,"e":0.000116},{"s":"400","x":775,"y":0.00195,"e":0.000099},{"s":"400","x":825,"y":0.00143,"e":0.000085},{"s":"400","x":875,"y":0.0011,"e":0.000074},{"s":"400","x":925,"y":0.00083,"e":0.000064},{"s":"400","x":975,"y":0.00068,"e":0.000058},{"s":"400","x":1025,"y":0.00054,"e":0.000052},{"s":"400","x":1075,"y":0.000366,"e":0.000043},{"s":"400","x":1125,"y":0.000311,"e":0.000039},{"s":"400","x":1175,"y":0.000262,"e":0.000036},{"s":"400","x":1225,"y":0.000212,"e":0.000033},{"s":"400","x":1275,"y":0.000155,"e":0.000028},{"s":"400","x":1325,"y":0.000146,"e":0.000027},{"s":"400","x":1375,"y":0.000129,"e":0.000025},{"s":"400","x":1425,"y":0.000096,"e":0.000022},{"s":"400","x":1475,"y":0.000059,"e":0.000017},{"s":"400","x":1525,"y":0.00002,"e":0.00001},{"s":"400","x":1575,"y":0.00004,"e":0.000014},{"s":"400","x":1625,"y":0.000045,"e":0.000015},{"s":"400","x":1675,"y":0.00004,"e":0.000014},{"s":"400","x":1825,"y":0.0000148,"e":0.0000086},{"s":"400","x":1875,"y":0.0000295,"e":0.000012},{"s":"400","x":2075,"y":0.0000148,"e":0.0000086},{"s":"400","x":2275,"y":0.0000148,"e":0.0000086},
{"s":"70","x":25,"y":0.173},{"s":"70","x":75,"y":0.436},{"s":"70","x":125,"y":0.248},{"s":"70","x":175,"y":0.088},{"s":"70","x":225,"y":0.0317},{"s":"70","x":275,"y":0.0138},{"s":"70","x":325,"y":0.0065},{"s":"70","x":375,"y":0.0035},
{"s":"70","x":425,"y":0.0019,"e":0.000097},{"s":"70","x":475,"y":0.0013,"e":0.000081},{"s":"70","x":525,"y":0.00083,"e":0.000064},{"s":"70","x":575,"y":0.00058,"e":0.000054},{"s":"70","x":625,"y":0.00029,"e":0.000038},{"s":"70","x":675,"y":0.00018,"e":0.00003},{"s":"70","x":725,"y":0.000159,"e":0.000028},{"s":"70","x":775,"y":0.000119,"e":0.000024},{"s":"70","x":825,"y":0.000085,"e":0.000021},{"s":"70","x":875,"y":0.000079,"e":0.00002},{"s":"70","x":925,"y":0.000035,"e":0.000013},{"s":"70","x":975,"y":0.00003,"e":0.000012},{"s":"70","x":1025,"y":0.00001,"e":0.0000071},{"s":"70","x":1075,"y":0.00001,"e":0.0000071},{"s":"70","x":1125,"y":0.00002,"e":0.00001},{"s":"70","x":1175,"y":0.00001,"e":0.0000071},{"s":"70","x":1325,"y":0.00002,"e":0.00001}
],
"legL":[{"k":0,"lab":"=10 GeV,  ξ = 0"},{"k":1,"s":"1600","lab":"= 1600  GeV"},{"k":2,"s":"2050","lab":"= 2050  GeV"},{"k":3,"s":"3000","lab":"= 3000  GeV"},{"k":4,"s":"400","lab":"= 400 GeV"},{"k":5,"s":"70","lab":"= 70 GeV"}],
"legR":[{"k":0,"lab":"=10 GeV,  ξ = +1"},{"k":1,"s":"1600","lab":"= 1600 GeV"},{"k":2,"s":"2050","lab":"= 2050 GeV"},{"k":3,"s":"3000","lab":"= 3000 GeV"},{"k":4,"s":"400","lab":"= 400 GeV"},{"k":5,"s":"70","lab":"= 70  GeV"}]
},
"hconcat":[
{
"width":498,"height":481,
"title":{"text":"√s = 13 TeV","anchor":"end","fontSize":21,"fontWeight":"normal","offset":-6,"frame":"group"},
"resolve":{"scale":{"y":"independent"}},
"layer":[
{"data":{"name":"L"},
"layer":[
{"mark":{"type":"tick","orient":"horizontal","size":5,"thickness":3},"encoding":{
"x":{"field":"x","type":"quantitative","scale":{"domain":[0,5000],"nice":false,"zero":false},"axis":{"title":"Mₜ (GeV)","values":[0,200,400,600,800,1000,1200,1400,1600,1800,2000,2200,2400,2600,2800,3000,3200,3400,3600,3800,4000,4200,4400,4600,4800,5000],"format":"d","tickSize":{"condition":{"test":"datum.value % 1000 === 0","value":-14},"value":-7},"labelExpr":"datum.value % 1000 === 0 ? datum.label : ''","labelPadding":17,"labelFontSize":21,"labelFontWeight":"bold","labelFlush":false,"labelOverlap":false,"labelBound":false,"domain":false,"grid":false,"tickColor":"#000","tickWidth":1,"titleFontSize":22,"titleFontWeight":"bold","titleAnchor":"end","titleAlign":"right","titleX":498,"titleY":50,"titleBaseline":"alphabetic"}},
"y":{"field":"y","type":"quantitative","scale":{"type":"log","domain":[0.00001,10],"nice":false,"clamp":true},"axis":{"title":"dσ / dMₜ (pb/50 GeV) normalized to unity","values":[0.00001,0.00002,0.00003,0.00004,0.00005,0.00006,0.00007,0.00008,0.00009,0.0001,0.0002,0.0003,0.0004,0.0005,0.0006,0.0007,0.0008,0.0009,0.001,0.002,0.003,0.004,0.005,0.006,0.007,0.008,0.009,0.01,0.02,0.03,0.04,0.05,0.06,0.07,0.08,0.09,0.1,0.2,0.3,0.4,0.5,0.6,0.7,0.8,0.9,1,2,3,4,5,6,7,8,9,10],"tickSize":{"condition":{"test":"indexof([0.00001,0.0001,0.001,0.01,0.1,1,10], datum.value) >= 0","value":-15},"value":-8},"labelExpr":"indexof([0.00001,0.0001,0.001,0.01,0.1,1,10], datum.value) >= 0 ? ['10⁻⁵','10⁻⁴','10⁻³','10⁻²','10⁻¹','1','10'][indexof([0.00001,0.0001,0.001,0.01,0.1,1,10], datum.value)] : ''","labelPadding":21,"labelFontSize":21,"labelFontWeight":"bold","labelOverlap":false,"labelBound":false,"labelFlush":false,"domain":false,"grid":false,"tickColor":"#000","tickWidth":1,"titleFontSize":22,"titleFontWeight":"bold","titleX":-72,"titleY":212,"titleAngle":-90,"titleBaseline":"middle","titleAlign":"center"}},
"color":{"field":"s","type":"nominal","scale":{"domain":["1600","2050","3000","400","70"],"range":["#ff0000","#00ff00","#ffcc00","#0000ff","#00ffff"]},"legend":null}}},
{"transform":[{"filter":"isValid(datum.e)"}],"mark":{"type":"errorbar","thickness":3},"encoding":{
"x":{"field":"x","type":"quantitative","scale":{"domain":[0,5000],"nice":false,"zero":false},"axis":{"title":"Mₜ (GeV)","values":[0,200,400,600,800,1000,1200,1400,1600,1800,2000,2200,2400,2600,2800,3000,3200,3400,3600,3800,4000,4200,4400,4600,4800,5000],"format":"d","tickSize":{"condition":{"test":"datum.value % 1000 === 0","value":-14},"value":-7},"labelExpr":"datum.value % 1000 === 0 ? datum.label : ''","labelPadding":17,"labelFontSize":21,"labelFontWeight":"bold","labelFlush":false,"labelOverlap":false,"labelBound":false,"domain":false,"grid":false,"tickColor":"#000","tickWidth":1,"titleFontSize":22,"titleFontWeight":"bold","titleAnchor":"end","titleAlign":"right","titleX":498,"titleY":50,"titleBaseline":"alphabetic"}},
"y":{"field":"y","type":"quantitative","scale":{"type":"log","domain":[0.00001,10],"nice":false,"clamp":true},"axis":{"title":"dσ / dMₜ (pb/50 GeV) normalized to unity","values":[0.00001,0.00002,0.00003,0.00004,0.00005,0.00006,0.00007,0.00008,0.00009,0.0001,0.0002,0.0003,0.0004,0.0005,0.0006,0.0007,0.0008,0.0009,0.001,0.002,0.003,0.004,0.005,0.006,0.007,0.008,0.009,0.01,0.02,0.03,0.04,0.05,0.06,0.07,0.08,0.09,0.1,0.2,0.3,0.4,0.5,0.6,0.7,0.8,0.9,1,2,3,4,5,6,7,8,9,10],"tickSize":{"condition":{"test":"indexof([0.00001,0.0001,0.001,0.01,0.1,1,10], datum.value) >= 0","value":-15},"value":-8},"labelExpr":"indexof([0.00001,0.0001,0.001,0.01,0.1,1,10], datum.value) >= 0 ? ['10⁻⁵','10⁻⁴','10⁻³','10⁻²','10⁻¹','1','10'][indexof([0.00001,0.0001,0.001,0.01,0.1,1,10], datum.value)] : ''","labelPadding":21,"labelFontSize":21,"labelFontWeight":"bold","labelOverlap":false,"labelBound":false,"labelFlush":false,"domain":false,"grid":false,"tickColor":"#000","tickWidth":1,"titleFontSize":22,"titleFontWeight":"bold","titleX":-72,"titleY":212,"titleAngle":-90,"titleBaseline":"middle","titleAlign":"center"}},
"yError":{"field":"e"},"color":{"field":"s","type":"nominal","scale":{"domain":["1600","2050","3000","400","70"],"range":["#ff0000","#00ff00","#ffcc00","#0000ff","#00ffff"]},"legend":null}}},
{"mark":{"type":"square","size":4,"color":"#000","opacity":1},"encoding":{
"x":{"field":"x","type":"quantitative","scale":{"domain":[0,5000],"nice":false,"zero":false},"axis":{"title":"Mₜ (GeV)","values":[0,200,400,600,800,1000,1200,1400,1600,1800,2000,2200,2400,2600,2800,3000,3200,3400,3600,3800,4000,4200,4400,4600,4800,5000],"format":"d","tickSize":{"condition":{"test":"datum.value % 1000 === 0","value":-14},"value":-7},"labelExpr":"datum.value % 1000 === 0 ? datum.label : ''","labelPadding":17,"labelFontSize":21,"labelFontWeight":"bold","labelFlush":false,"labelOverlap":false,"labelBound":false,"domain":false,"grid":false,"tickColor":"#000","tickWidth":1,"titleFontSize":22,"titleFontWeight":"bold","titleAnchor":"end","titleAlign":"right","titleX":498,"titleY":50,"titleBaseline":"alphabetic"}},
"y":{"field":"y","type":"quantitative","scale":{"type":"log","domain":[0.00001,10],"nice":false,"clamp":true},"axis":{"title":"dσ / dMₜ (pb/50 GeV) normalized to unity","values":[0.00001,0.00002,0.00003,0.00004,0.00005,0.00006,0.00007,0.00008,0.00009,0.0001,0.0002,0.0003,0.0004,0.0005,0.0006,0.0007,0.0008,0.0009,0.001,0.002,0.003,0.004,0.005,0.006,0.007,0.008,0.009,0.01,0.02,0.03,0.04,0.05,0.06,0.07,0.08,0.09,0.1,0.2,0.3,0.4,0.5,0.6,0.7,0.8,0.9,1,2,3,4,5,6,7,8,9,10],"tickSize":{"condition":{"test":"indexof([0.00001,0.0001,0.001,0.01,0.1,1,10], datum.value) >= 0","value":-15},"value":-8},"labelExpr":"indexof([0.00001,0.0001,0.001,0.01,0.1,1,10], datum.value) >= 0 ? ['10⁻⁵','10⁻⁴','10⁻³','10⁻²','10⁻¹','1','10'][indexof([0.00001,0.0001,0.001,0.01,0.1,1,10], datum.value)] : ''","labelPadding":21,"labelFontSize":21,"labelFontWeight":"bold","labelOverlap":false,"labelBound":false,"labelFlush":false,"domain":false,"grid":false,"tickColor":"#000","tickWidth":1,"titleFontSize":22,"titleFontWeight":"bold","titleX":-72,"titleY":212,"titleAngle":-90,"titleBaseline":"middle","titleAlign":"center"}}}},
{"data":{"values":[{}]},"mark":{"type":"text","text":"MadGraph Simulation (Majorana)","align":"right","baseline":"alphabetic","fontSize":20,"fontWeight":"bold"},"encoding":{
"x":{"datum":4850,"scale":{"domain":[0,5000],"nice":false,"zero":false},"axis":{"title":"Mₜ (GeV)","values":[0,200,400,600,800,1000,1200,1400,1600,1800,2000,2200,2400,2600,2800,3000,3200,3400,3600,3800,4000,4200,4400,4600,4800,5000],"format":"d","tickSize":{"condition":{"test":"datum.value % 1000 === 0","value":-14},"value":-7},"labelExpr":"datum.value % 1000 === 0 ? datum.label : ''","labelPadding":17,"labelFontSize":21,"labelFontWeight":"bold","labelFlush":false,"labelOverlap":false,"labelBound":false,"domain":false,"grid":false,"tickColor":"#000","tickWidth":1,"titleFontSize":22,"titleFontWeight":"bold","titleAnchor":"end","titleAlign":"right","titleX":498,"titleY":50,"titleBaseline":"alphabetic"}},
"y":{"datum":3.26,"scale":{"type":"log","domain":[0.00001,10],"nice":false,"clamp":true},"axis":{"title":"dσ / dMₜ (pb/50 GeV) normalized to unity","values":[0.00001,0.00002,0.00003,0.00004,0.00005,0.00006,0.00007,0.00008,0.00009,0.0001,0.0002,0.0003,0.0004,0.0005,0.0006,0.0007,0.0008,0.0009,0.001,0.002,0.003,0.004,0.005,0.006,0.007,0.008,0.009,0.01,0.02,0.03,0.04,0.05,0.06,0.07,0.08,0.09,0.1,0.2,0.3,0.4,0.5,0.6,0.7,0.8,0.9,1,2,3,4,5,6,7,8,9,10],"tickSize":{"condition":{"test":"indexof([0.00001,0.0001,0.001,0.01,0.1,1,10], datum.value) >= 0","value":-15},"value":-8},"labelExpr":"indexof([0.00001,0.0001,0.001,0.01,0.1,1,10], datum.value) >= 0 ? ['10⁻⁵','10⁻⁴','10⁻³','10⁻²','10⁻¹','1','10'][indexof([0.00001,0.0001,0.001,0.01,0.1,1,10], datum.value)] : ''","labelPadding":21,"labelFontSize":21,"labelFontWeight":"bold","labelOverlap":false,"labelBound":false,"labelFlush":false,"domain":false,"grid":false,"tickColor":"#000","tickWidth":1,"titleFontSize":22,"titleFontWeight":"bold","titleX":-72,"titleY":212,"titleAngle":-90,"titleBaseline":"middle","titleAlign":"center"}}}}
]},
{"data":{"name":"legL"},
"encoding":{"y":{"field":"k","type":"quantitative","scale":{"domain":[0,5],"range":[358,460],"nice":false,"zero":false},"axis":null},
"x":{"datum":786,"scale":{"domain":[0,5000],"nice":false,"zero":false},"axis":{"title":"Mₜ (GeV)","values":[0,200,400,600,800,1000,1200,1400,1600,1800,2000,2200,2400,2600,2800,3000,3200,3400,3600,3800,4000,4200,4400,4600,4800,5000],"format":"d","tickSize":{"condition":{"test":"datum.value % 1000 === 0","value":-14},"value":-7},"labelExpr":"datum.value % 1000 === 0 ? datum.label : ''","labelPadding":17,"labelFontSize":21,"labelFontWeight":"bold","labelFlush":false,"labelOverlap":false,"labelBound":false,"domain":false,"grid":false,"tickColor":"#000","tickWidth":1,"titleFontSize":22,"titleFontWeight":"bold","titleAnchor":"end","titleAlign":"right","titleX":498,"titleY":50,"titleBaseline":"alphabetic"}}},
"layer":[
{"transform":[{"filter":"datum.k > 0"}],"mark":{"type":"rule","strokeWidth":2},"encoding":{"x":{"datum":211,"scale":{"domain":[0,5000],"nice":false,"zero":false},"axis":{"title":"Mₜ (GeV)","values":[0,200,400,600,800,1000,1200,1400,1600,1800,2000,2200,2400,2600,2800,3000,3200,3400,3600,3800,4000,4200,4400,4600,4800,5000],"format":"d","tickSize":{"condition":{"test":"datum.value % 1000 === 0","value":-14},"value":-7},"labelExpr":"datum.value % 1000 === 0 ? datum.label : ''","labelPadding":17,"labelFontSize":21,"labelFontWeight":"bold","labelFlush":false,"labelOverlap":false,"labelBound":false,"domain":false,"grid":false,"tickColor":"#000","tickWidth":1,"titleFontSize":22,"titleFontWeight":"bold","titleAnchor":"end","titleAlign":"right","titleX":498,"titleY":50,"titleBaseline":"alphabetic"}},"x2":{"datum":653},"color":{"field":"s","type":"nominal","scale":{"domain":["1600","2050","3000","400","70"],"range":["#ff0000","#00ff00","#ffcc00","#0000ff","#00ffff"]},"legend":null}}},
{"transform":[{"filter":"datum.k > 0"}],"mark":{"type":"text","text":"M","align":"left","baseline":"middle","fontSize":15,"fontWeight":"bold"}},
{"transform":[{"filter":"datum.k > 0"}],"mark":{"type":"text","text":"med","align":"left","baseline":"middle","fontSize":11,"fontWeight":"bold","dx":12,"dy":5}},
{"transform":[{"filter":"datum.k > 0"}],"mark":{"type":"text","align":"left","baseline":"middle","fontSize":15,"fontWeight":"bold","dx":38},"encoding":{"text":{"field":"lab"}}},
{"transform":[{"filter":"datum.k == 0"}],"mark":{"type":"text","text":"m","align":"left","baseline":"middle","fontSize":14,"fontWeight":"bold","dx":-60}},
{"transform":[{"filter":"datum.k == 0"}],"mark":{"type":"text","text":"χ","align":"left","baseline":"middle","fontSize":10,"fontWeight":"bold","dx":-49,"dy":4}},
{"transform":[{"filter":"datum.k == 0"}],"mark":{"type":"text","align":"left","baseline":"middle","fontSize":14,"fontWeight":"bold","dx":-43},"encoding":{"text":{"field":"lab"}}}
]}
]
},
{
"width":500,"height":481,
"title":{"text":"√s = 13 TeV","anchor":"end","fontSize":21,"fontWeight":"normal","offset":-6,"frame":"group"},
"resolve":{"scale":{"y":"independent"}},
"layer":[
{"data":{"name":"R"},
"layer":[
{"mark":{"type":"tick","orient":"horizontal","size":5,"thickness":3},"encoding":{
"x":{"field":"x","type":"quantitative","scale":{"domain":[0,5000],"nice":false,"zero":false},"axis":{"title":"Mₜ (GeV)","values":[0,200,400,600,800,1000,1200,1400,1600,1800,2000,2200,2400,2600,2800,3000,3200,3400,3600,3800,4000,4200,4400,4600,4800,5000],"format":"d","tickSize":{"condition":{"test":"datum.value % 1000 === 0","value":-14},"value":-7},"labelExpr":"datum.value % 1000 === 0 ? datum.label : ''","labelPadding":17,"labelFontSize":21,"labelFontWeight":"bold","labelFlush":false,"labelOverlap":false,"labelBound":false,"domain":false,"grid":false,"tickColor":"#000","tickWidth":1,"titleFontSize":22,"titleFontWeight":"bold","titleAnchor":"end","titleAlign":"right","titleX":500,"titleY":50,"titleBaseline":"alphabetic"}},
"y":{"field":"y","type":"quantitative","scale":{"type":"log","domain":[0.00001,10],"nice":false,"clamp":true},"axis":{"title":"dσ / dMₜ (pb/50 GeV) normalized to unity","values":[0.00001,0.00002,0.00003,0.00004,0.00005,0.00006,0.00007,0.00008,0.00009,0.0001,0.0002,0.0003,0.0004,0.0005,0.0006,0.0007,0.0008,0.0009,0.001,0.002,0.003,0.004,0.005,0.006,0.007,0.008,0.009,0.01,0.02,0.03,0.04,0.05,0.06,0.07,0.08,0.09,0.1,0.2,0.3,0.4,0.5,0.6,0.7,0.8,0.9,1,2,3,4,5,6,7,8,9,10],"tickSize":{"condition":{"test":"indexof([0.00001,0.0001,0.001,0.01,0.1,1,10], datum.value) >= 0","value":-15},"value":-8},"labelExpr":"indexof([0.00001,0.0001,0.001,0.01,0.1,1,10], datum.value) >= 0 ? ['10⁻⁵','10⁻⁴','10⁻³','10⁻²','10⁻¹','1','10'][indexof([0.00001,0.0001,0.001,0.01,0.1,1,10], datum.value)] : ''","labelPadding":21,"labelFontSize":21,"labelFontWeight":"bold","labelOverlap":false,"labelBound":false,"labelFlush":false,"domain":false,"grid":false,"tickColor":"#000","tickWidth":1,"titleFontSize":22,"titleFontWeight":"bold","titleX":-72,"titleY":212,"titleAngle":-90,"titleBaseline":"middle","titleAlign":"center"}},
"color":{"field":"s","type":"nominal","scale":{"domain":["1600","2050","3000","400","70"],"range":["#ff0000","#00ff00","#ffcc00","#0000ff","#00ffff"]},"legend":null}}},
{"transform":[{"filter":"isValid(datum.e)"}],"mark":{"type":"errorbar","thickness":3},"encoding":{
"x":{"field":"x","type":"quantitative","scale":{"domain":[0,5000],"nice":false,"zero":false},"axis":{"title":"Mₜ (GeV)","values":[0,200,400,600,800,1000,1200,1400,1600,1800,2000,2200,2400,2600,2800,3000,3200,3400,3600,3800,4000,4200,4400,4600,4800,5000],"format":"d","tickSize":{"condition":{"test":"datum.value % 1000 === 0","value":-14},"value":-7},"labelExpr":"datum.value % 1000 === 0 ? datum.label : ''","labelPadding":17,"labelFontSize":21,"labelFontWeight":"bold","labelFlush":false,"labelOverlap":false,"labelBound":false,"domain":false,"grid":false,"tickColor":"#000","tickWidth":1,"titleFontSize":22,"titleFontWeight":"bold","titleAnchor":"end","titleAlign":"right","titleX":500,"titleY":50,"titleBaseline":"alphabetic"}},
"y":{"field":"y","type":"quantitative","scale":{"type":"log","domain":[0.00001,10],"nice":false,"clamp":true},"axis":{"title":"dσ / dMₜ (pb/50 GeV) normalized to unity","values":[0.00001,0.00002,0.00003,0.00004,0.00005,0.00006,0.00007,0.00008,0.00009,0.0001,0.0002,0.0003,0.0004,0.0005,0.0006,0.0007,0.0008,0.0009,0.001,0.002,0.003,0.004,0.005,0.006,0.007,0.008,0.009,0.01,0.02,0.03,0.04,0.05,0.06,0.07,0.08,0.09,0.1,0.2,0.3,0.4,0.5,0.6,0.7,0.8,0.9,1,2,3,4,5,6,7,8,9,10],"tickSize":{"condition":{"test":"indexof([0.00001,0.0001,0.001,0.01,0.1,1,10], datum.value) >= 0","value":-15},"value":-8},"labelExpr":"indexof([0.00001,0.0001,0.001,0.01,0.1,1,10], datum.value) >= 0 ? ['10⁻⁵','10⁻⁴','10⁻³','10⁻²','10⁻¹','1','10'][indexof([0.00001,0.0001,0.001,0.01,0.1,1,10], datum.value)] : ''","labelPadding":21,"labelFontSize":21,"labelFontWeight":"bold","labelOverlap":false,"labelBound":false,"labelFlush":false,"domain":false,"grid":false,"tickColor":"#000","tickWidth":1,"titleFontSize":22,"titleFontWeight":"bold","titleX":-72,"titleY":212,"titleAngle":-90,"titleBaseline":"middle","titleAlign":"center"}},
"yError":{"field":"e"},"color":{"field":"s","type":"nominal","scale":{"domain":["1600","2050","3000","400","70"],"range":["#ff0000","#00ff00","#ffcc00","#0000ff","#00ffff"]},"legend":null}}},
{"mark":{"type":"square","size":4,"color":"#000","opacity":1},"encoding":{
"x":{"field":"x","type":"quantitative","scale":{"domain":[0,5000],"nice":false,"zero":false},"axis":{"title":"Mₜ (GeV)","values":[0,200,400,600,800,1000,1200,1400,1600,1800,2000,2200,2400,2600,2800,3000,3200,3400,3600,3800,4000,4200,4400,4600,4800,5000],"format":"d","tickSize":{"condition":{"test":"datum.value % 1000 === 0","value":-14},"value":-7},"labelExpr":"datum.value % 1000 === 0 ? datum.label : ''","labelPadding":17,"labelFontSize":21,"labelFontWeight":"bold","labelFlush":false,"labelOverlap":false,"labelBound":false,"domain":false,"grid":false,"tickColor":"#000","tickWidth":1,"titleFontSize":22,"titleFontWeight":"bold","titleAnchor":"end","titleAlign":"right","titleX":500,"titleY":50,"titleBaseline":"alphabetic"}},
"y":{"field":"y","type":"quantitative","scale":{"type":"log","domain":[0.00001,10],"nice":false,"clamp":true},"axis":{"title":"dσ / dMₜ (pb/50 GeV) normalized to unity","values":[0.00001,0.00002,0.00003,0.00004,0.00005,0.00006,0.00007,0.00008,0.00009,0.0001,0.0002,0.0003,0.0004,0.0005,0.0006,0.0007,0.0008,0.0009,0.001,0.002,0.003,0.004,0.005,0.006,0.007,0.008,0.009,0.01,0.02,0.03,0.04,0.05,0.06,0.07,0.08,0.09,0.1,0.2,0.3,0.4,0.5,0.6,0.7,0.8,0.9,1,2,3,4,5,6,7,8,9,10],"tickSize":{"condition":{"test":"indexof([0.00001,0.0001,0.001,0.01,0.1,1,10], datum.value) >= 0","value":-15},"value":-8},"labelExpr":"indexof([0.00001,0.0001,0.001,0.01,0.1,1,10], datum.value) >= 0 ? ['10⁻⁵','10⁻⁴','10⁻³','10⁻²','10⁻¹','1','10'][indexof([0.00001,0.0001,0.001,0.01,0.1,1,10], datum.value)] : ''","labelPadding":21,"labelFontSize":21,"labelFontWeight":"bold","labelOverlap":false,"labelBound":false,"labelFlush":false,"domain":false,"grid":false,"tickColor":"#000","tickWidth":1,"titleFontSize":22,"titleFontWeight":"bold","titleX":-72,"titleY":212,"titleAngle":-90,"titleBaseline":"middle","titleAlign":"center"}}}},
{"data":{"values":[{}]},"mark":{"type":"text","text":"MadGraph Simulation (Majorana)","align":"right","baseline":"alphabetic","fontSize":20,"fontWeight":"bold"},"encoding":{
"x":{"datum":4820,"scale":{"domain":[0,5000],"nice":false,"zero":false},"axis":{"title":"Mₜ (GeV)","values":[0,200,400,600,800,1000,1200,1400,1600,1800,2000,2200,2400,2600,2800,3000,3200,3400,3600,3800,4000,4200,4400,4600,4800,5000],"format":"d","tickSize":{"condition":{"test":"datum.value % 1000 === 0","value":-14},"value":-7},"labelExpr":"datum.value % 1000 === 0 ? datum.label : ''","labelPadding":17,"labelFontSize":21,"labelFontWeight":"bold","labelFlush":false,"labelOverlap":false,"labelBound":false,"domain":false,"grid":false,"tickColor":"#000","tickWidth":1,"titleFontSize":22,"titleFontWeight":"bold","titleAnchor":"end","titleAlign":"right","titleX":500,"titleY":50,"titleBaseline":"alphabetic"}},
"y":{"datum":3.26,"scale":{"type":"log","domain":[0.00001,10],"nice":false,"clamp":true},"axis":{"title":"dσ / dMₜ (pb/50 GeV) normalized to unity","values":[0.00001,0.00002,0.00003,0.00004,0.00005,0.00006,0.00007,0.00008,0.00009,0.0001,0.0002,0.0003,0.0004,0.0005,0.0006,0.0007,0.0008,0.0009,0.001,0.002,0.003,0.004,0.005,0.006,0.007,0.008,0.009,0.01,0.02,0.03,0.04,0.05,0.06,0.07,0.08,0.09,0.1,0.2,0.3,0.4,0.5,0.6,0.7,0.8,0.9,1,2,3,4,5,6,7,8,9,10],"tickSize":{"condition":{"test":"indexof([0.00001,0.0001,0.001,0.01,0.1,1,10], datum.value) >= 0","value":-15},"value":-8},"labelExpr":"indexof([0.00001,0.0001,0.001,0.01,0.1,1,10], datum.value) >= 0 ? ['10⁻⁵','10⁻⁴','10⁻³','10⁻²','10⁻¹','1','10'][indexof([0.00001,0.0001,0.001,0.01,0.1,1,10], datum.value)] : ''","labelPadding":21,"labelFontSize":21,"labelFontWeight":"bold","labelOverlap":false,"labelBound":false,"labelFlush":false,"domain":false,"grid":false,"tickColor":"#000","tickWidth":1,"titleFontSize":22,"titleFontWeight":"bold","titleX":-72,"titleY":212,"titleAngle":-90,"titleBaseline":"middle","titleAlign":"center"}}}}
]},
{"data":{"name":"legR"},
"encoding":{"y":{"field":"k","type":"quantitative","scale":{"domain":[0,5],"range":[72,187],"nice":false,"zero":false},"axis":null},
"x":{"datum":3230,"scale":{"domain":[0,5000],"nice":false,"zero":false},"axis":{"title":"Mₜ (GeV)","values":[0,200,400,600,800,1000,1200,1400,1600,1800,2000,2200,2400,2600,2800,3000,3200,3400,3600,3800,4000,4200,4400,4600,4800,5000],"format":"d","tickSize":{"condition":{"test":"datum.value % 1000 === 0","value":-14},"value":-7},"labelExpr":"datum.value % 1000 === 0 ? datum.label : ''","labelPadding":17,"labelFontSize":21,"labelFontWeight":"bold","labelFlush":false,"labelOverlap":false,"labelBound":false,"domain":false,"grid":false,"tickColor":"#000","tickWidth":1,"titleFontSize":22,"titleFontWeight":"bold","titleAnchor":"end","titleAlign":"right","titleX":500,"titleY":50,"titleBaseline":"alphabetic"}}},
"layer":[
{"transform":[{"filter":"datum.k > 0"}],"mark":{"type":"rule","strokeWidth":2},"encoding":{"x":{"datum":2600,"scale":{"domain":[0,5000],"nice":false,"zero":false},"axis":{"title":"Mₜ (GeV)","values":[0,200,400,600,800,1000,1200,1400,1600,1800,2000,2200,2400,2600,2800,3000,3200,3400,3600,3800,4000,4200,4400,4600,4800,5000],"format":"d","tickSize":{"condition":{"test":"datum.value % 1000 === 0","value":-14},"value":-7},"labelExpr":"datum.value % 1000 === 0 ? datum.label : ''","labelPadding":17,"labelFontSize":21,"labelFontWeight":"bold","labelFlush":false,"labelOverlap":false,"labelBound":false,"domain":false,"grid":false,"tickColor":"#000","tickWidth":1,"titleFontSize":22,"titleFontWeight":"bold","titleAnchor":"end","titleAlign":"right","titleX":500,"titleY":50,"titleBaseline":"alphabetic"}},"x2":{"datum":3080},"color":{"field":"s","type":"nominal","scale":{"domain":["1600","2050","3000","400","70"],"range":["#ff0000","#00ff00","#ffcc00","#0000ff","#00ffff"]},"legend":null}}},
{"transform":[{"filter":"datum.k > 0"}],"mark":{"type":"text","text":"M","align":"left","baseline":"middle","fontSize":15.5,"fontWeight":"bold"}},
{"transform":[{"filter":"datum.k > 0"}],"mark":{"type":"text","text":"med","align":"left","baseline":"middle","fontSize":11,"fontWeight":"bold","dx":13,"dy":5}},
{"transform":[{"filter":"datum.k > 0"}],"mark":{"type":"text","align":"left","baseline":"middle","fontSize":15.5,"fontWeight":"bold","dx":39},"encoding":{"text":{"field":"lab"}}},
{"transform":[{"filter":"datum.k == 0"}],"mark":{"type":"text","text":"m","align":"left","baseline":"middle","fontSize":14,"fontWeight":"bold","dx":-66}},
{"transform":[{"filter":"datum.k == 0"}],"mark":{"type":"text","text":"χ","align":"left","baseline":"middle","fontSize":10,"fontWeight":"bold","dx":-55,"dy":4}},
{"transform":[{"filter":"datum.k == 0"}],"mark":{"type":"text","align":"left","baseline":"middle","fontSize":14,"fontWeight":"bold","dx":-49},"encoding":{"text":{"field":"lab"}}}
]}
]
}
]
}
